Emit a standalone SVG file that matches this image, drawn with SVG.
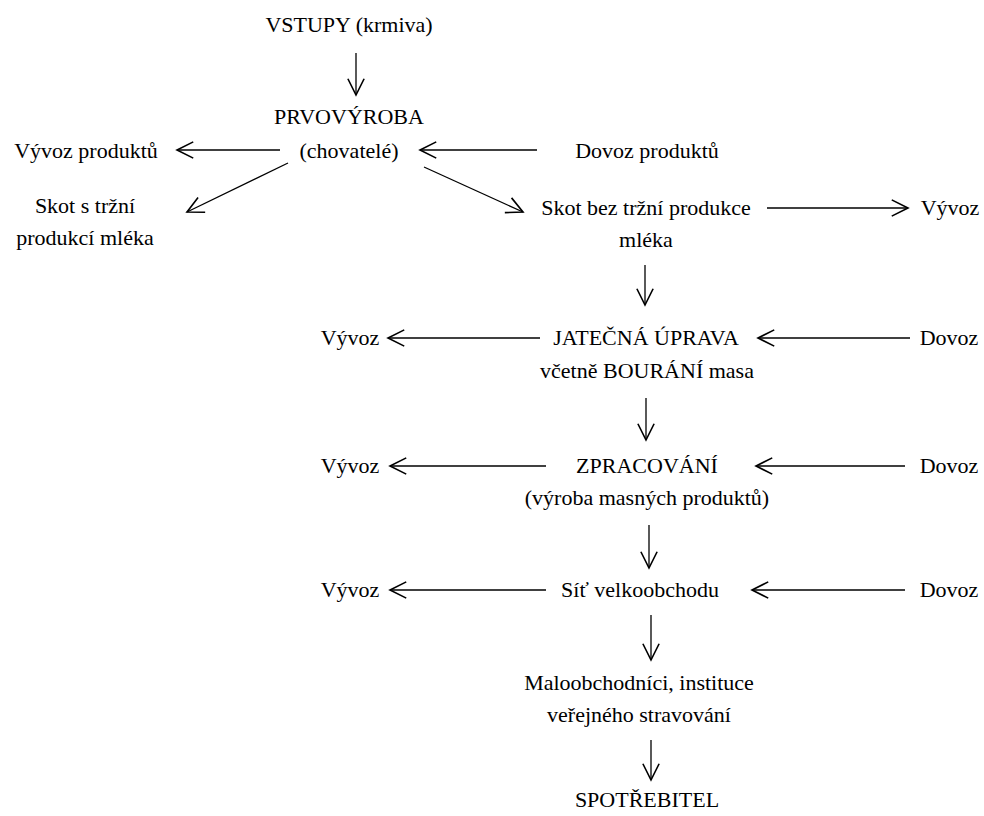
<svg xmlns="http://www.w3.org/2000/svg" width="984" height="816" viewBox="0 0 984 816" font-family="Liberation Serif">
<defs>
<style>
.t{font-family:'Liberation Serif','Times New Roman',serif;font-size:22px;fill:#000;text-anchor:middle}
.c line{stroke:#000;stroke-width:1.3;fill:none;marker-end:url(#ah)}
</style>
<marker id="ah" markerUnits="userSpaceOnUse" markerWidth="20" markerHeight="20" viewBox="-14 -8 16 16" refX="0" refY="0" orient="auto">
<path d="M-13,-6.5 L0,0 L-13,6.5" fill="none" stroke="#000" stroke-width="1.3"/>
</marker>
</defs>
<rect width="984" height="816" fill="#fff"/>
<g id="vstupy"><text class="t" x="349" y="32">VSTUPY (krmiva)</text></g>
<g id="prvovyroba"><text class="t" x="349" y="124">PRVOVÝROBA</text><text class="t" x="349" y="158">(chovatelé)</text></g>
<g id="vyvoz-produktu"><text class="t" x="86" y="158">Vývoz produktů</text></g>
<g id="dovoz-produktu"><text class="t" x="647" y="158">Dovoz produktů</text></g>
<g id="skot-s"><text class="t" x="85" y="213">Skot s tržní</text><text class="t" x="85" y="245">produkcí mléka</text></g>
<g id="skot-bez"><text class="t" x="646" y="215">Skot bez tržní produkce</text><text class="t" x="646" y="247">mléka</text></g>
<g id="vyvoz0"><text class="t" x="950" y="215">Vývoz</text></g>
<g id="jatecna"><text class="t" x="646" y="345">JATEČNÁ ÚPRAVA</text><text class="t" x="647" y="378">včetně BOURÁNÍ masa</text></g>
<g id="vyvoz1"><text class="t" x="350" y="345">Vývoz</text></g>
<g id="dovoz1"><text class="t" x="949" y="345">Dovoz</text></g>
<g id="zpracovani"><text class="t" x="647" y="473">ZPRACOVÁNÍ</text><text class="t" x="647" y="505">(výroba masných produktů)</text></g>
<g id="vyvoz2"><text class="t" x="350" y="473">Vývoz</text></g>
<g id="dovoz2"><text class="t" x="949" y="473">Dovoz</text></g>
<g id="velkoobchod"><text class="t" x="640" y="597">Síť velkoobchodu</text></g>
<g id="vyvoz3"><text class="t" x="350" y="597">Vývoz</text></g>
<g id="dovoz3"><text class="t" x="949" y="597">Dovoz</text></g>
<g id="maloobchod"><text class="t" x="639" y="690">Maloobchodníci, instituce</text><text class="t" x="639" y="722">veřejného stravování</text></g>
<g id="spotrebitel"><text class="t" x="647" y="807">SPOTŘEBITEL</text></g>
<g class="c" id="connectors">
<line x1="356" y1="53" x2="356" y2="95"/>
<line x1="280" y1="150" x2="177" y2="150"/>
<line x1="537" y1="150" x2="420" y2="150"/>
<line x1="288" y1="163" x2="187" y2="212"/>
<line x1="424" y1="167" x2="523" y2="212"/>
<line x1="767" y1="208" x2="908" y2="208"/>
<line x1="645" y1="265" x2="645" y2="305"/>
<line x1="540" y1="338" x2="388" y2="338"/>
<line x1="910" y1="338" x2="758" y2="338"/>
<line x1="646" y1="398" x2="646" y2="440"/>
<line x1="546" y1="466" x2="390" y2="466"/>
<line x1="905" y1="466" x2="756" y2="466"/>
<line x1="649" y1="525" x2="649" y2="568"/>
<line x1="546" y1="590" x2="390" y2="590"/>
<line x1="905" y1="590" x2="752" y2="590"/>
<line x1="651" y1="615" x2="651" y2="660"/>
<line x1="651" y1="740" x2="651" y2="780"/>
</g>
</svg>
